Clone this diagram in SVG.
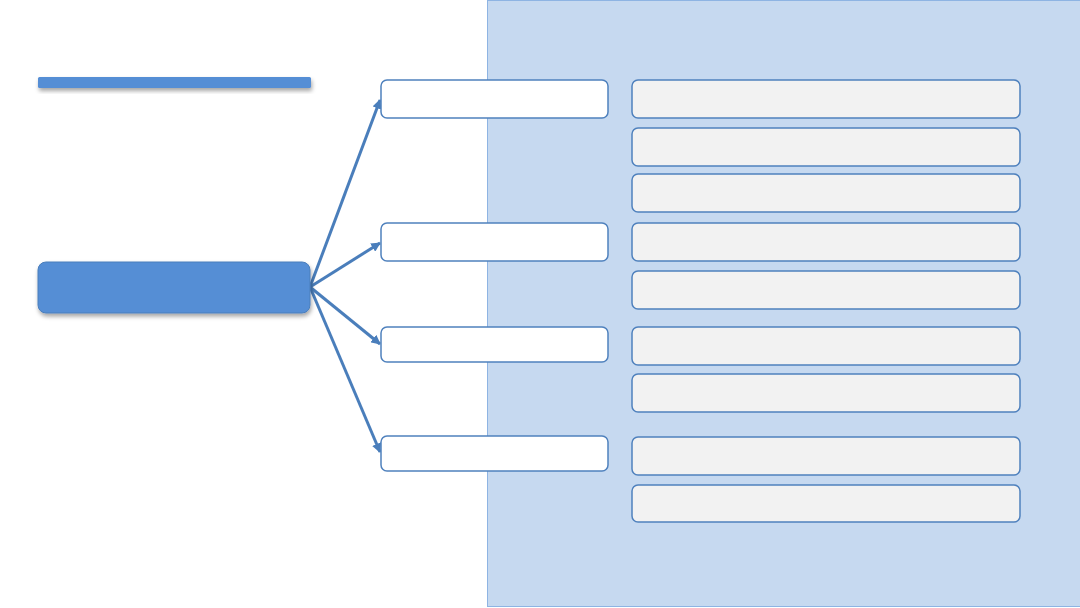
<svg xmlns="http://www.w3.org/2000/svg" width="1080" height="608" viewBox="0 0 1080 608">
<defs>
<filter id="sh" x="-10%" y="-30%" width="120%" height="180%">
<feDropShadow dx="1" dy="3" stdDeviation="2" flood-color="#000" flood-opacity="0.35"/>
</filter>
<marker id="ah" viewBox="0 0 10 10" refX="9" refY="5" markerWidth="3.2" markerHeight="3.2" orient="auto" markerUnits="strokeWidth">
<path d="M0,0 L10,5 L0,10 z" fill="#4A7EBB"/>
</marker>
<style>
.mid{fill:#FFFFFF;stroke:#4F81BD;stroke-width:1.5}
.rt{fill:#F2F2F2;stroke:#4F81BD;stroke-width:1.5}
.conn{stroke:#4A7EBB;stroke-width:3;fill:none;marker-end:url(#ah)}
</style>
</defs>
<rect width="1080" height="608" fill="#FFFFFF"/>
<rect id="panel" x="487.5" y="0.5" width="593" height="606" fill="#C6D9F0" stroke="#8EB4E3" stroke-width="1"/>
<g id="title-bar"><rect x="38" y="77" width="273" height="11" rx="1.5" fill="#558ED5" filter="url(#sh)"/></g>
<g id="connectors">
<line class="conn" x1="310" y1="287" x2="380" y2="100"/>
<line class="conn" x1="310" y1="287" x2="380" y2="243"/>
<line class="conn" x1="310" y1="287" x2="380" y2="344"/>
<line class="conn" x1="310" y1="287" x2="380" y2="452"/>
</g>
<g id="main"><rect x="38" y="262" width="272" height="51" rx="8" fill="#558ED5" stroke="#4A7EBB" stroke-width="1" filter="url(#sh)"/></g>
<g id="m1"><rect class="mid" x="381" y="80" width="227" height="38" rx="6"/></g>
<g id="m2"><rect class="mid" x="381" y="223" width="227" height="38" rx="6"/></g>
<g id="m3"><rect class="mid" x="381" y="327" width="227" height="35" rx="6"/></g>
<g id="m4"><rect class="mid" x="381" y="436" width="227" height="35" rx="6"/></g>
<g id="r1"><rect class="rt" x="632" y="80" width="388" height="38" rx="6"/></g>
<g id="r2"><rect class="rt" x="632" y="128" width="388" height="38" rx="6"/></g>
<g id="r3"><rect class="rt" x="632" y="174" width="388" height="38" rx="6"/></g>
<g id="r4"><rect class="rt" x="632" y="223" width="388" height="38" rx="6"/></g>
<g id="r5"><rect class="rt" x="632" y="271" width="388" height="38" rx="6"/></g>
<g id="r6"><rect class="rt" x="632" y="327" width="388" height="38" rx="6"/></g>
<g id="r7"><rect class="rt" x="632" y="374" width="388" height="38" rx="6"/></g>
<g id="r8"><rect class="rt" x="632" y="437" width="388" height="38" rx="6"/></g>
<g id="r9"><rect class="rt" x="632" y="485" width="388" height="37" rx="6"/></g>
</svg>
